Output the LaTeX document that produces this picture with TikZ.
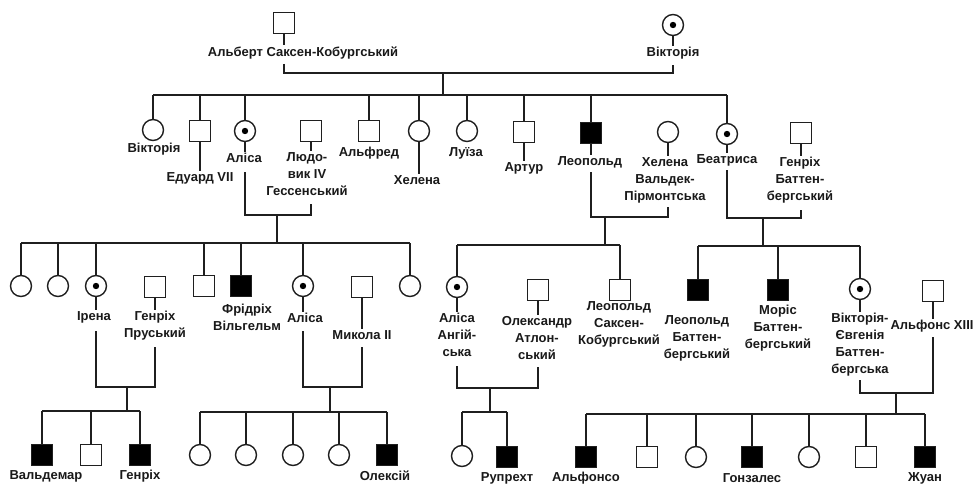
\documentclass[tikz,border=0pt]{standalone}
\usepackage{fontspec}
\setmainfont{Liberation Sans}
\tikzset{
  ln/.style={line width=1.4pt, draw=black!88},
  sym/.style={draw=black!88, line width=1.4pt, minimum size=21pt, inner sep=0pt},
  sq/.style={sym, rectangle},
  sqa/.style={sq, fill=black},
  ci/.style={sym, circle},
  car/.style={ci, path picture={\fill[black] (path picture bounding box.center) circle (3.2pt);}},
  lbl/.style={font=\fontsize{13}{17}\selectfont\bfseries, align=center, inner sep=1.2pt, text=black!90},
}
\begin{document}
\begin{tikzpicture}[x=1pt,y=-1pt]
\useasboundingbox (0,0) rectangle (975,487);
\fill[white] (0,0) rectangle (975,487);

% ---------- generation I
\node[sq] (alb) at (284,23) {};
\node[lbl] (albL) at (303,53) {Альберт Саксен-Кобургський};
\node[car] (vic) at (673,25) {};
\node[lbl] (vicL) at (673,53) {Вікторія};
\coordinate (albb) at (284,64);
\coordinate (vicb) at (673,65);
\coordinate (m1) at (443,73);
\coordinate (s1) at (443,95);
\draw[ln] (alb.south) -- (alb.south |- albL.north);
\draw[ln] (vic.south) -- (vicL.north);
\draw[ln] (albb) |- (m1) -| (vicb);
\draw[ln] (m1) -- (s1);

% ---------- generation II
\node[ci]  (c1) at (153,130) {};
\node[lbl] (c1L) at (154,149) {Вікторія};
\node[sq]  (c2) at (200,131) {};
\node[lbl] (c2L) at (200,178) {Едуард VII};
\node[car] (c3) at (245,131) {};
\node[lbl] (c3L) at (244,158) {Аліса};
\node[sq]  (lud) at (311,131) {};
\node[lbl] (ludL) at (307,174) {Людо-\\вик IV\\Гессенський};
\node[sq]  (c4) at (369,131) {};
\node[lbl] (c4L) at (369,153) {Альфред};
\node[ci]  (c5) at (419,131) {};
\node[lbl] (c5L) at (417,180) {Хелена};
\node[ci]  (c6) at (467,131) {};
\node[lbl] (c6L) at (466,153) {Луїза};
\node[sq]  (c7) at (524,132) {};
\node[lbl] (c7L) at (524,168) {Артур};
\node[sqa] (c8) at (591,133) {};
\node[lbl] (c8L) at (590,162) {Леопольд};
\node[ci]  (hwp) at (668,132) {};
\node[lbl] (hwpL) at (665,180) {Хелена\\Вальдек-\\Пірмонтська};
\node[car] (c9) at (727,134) {};
\node[lbl] (c9L) at (727,160) {Беатриса};
\node[sq]  (hb) at (801,133) {};
\node[lbl] (hbL) at (800,180) {Генріх\\Баттен-\\бергський};

\draw[ln] (c1 |- s1) -- (c9 |- s1);
\foreach \n in {c1,c2,c3,c4,c5,c6,c7,c8,c9} \draw[ln] (\n.north) -- (\n |- s1);
\foreach \n in {c2,c3,c5,c7,c8,hwp,c9,hb} \draw[ln] (\n.south) -- (\n.south |- \n L.north);
\draw[ln] (lud.south) -- (lud.south |- ludL.north);

% couples of generation II
\coordinate (c3b) at (245,172);
\coordinate (ludb) at (311,204);
\coordinate (m2) at (277,215);
\coordinate (s2) at (277,243);
\draw[ln] (c3b) |- (m2) -| (ludb);
\draw[ln] (m2) -- (s2);

\coordinate (c8b) at (591,172);
\coordinate (hwpb) at (668,207);
\coordinate (m3) at (605,217);
\coordinate (s3) at (605,245);
\draw[ln] (c8b) |- (m3) -| (hwpb);
\draw[ln] (m3) -- (s3);

\coordinate (c9b) at (727,170);
\coordinate (hbb) at (801,210);
\coordinate (m4) at (763,218);
\coordinate (s4) at (763,246);
\draw[ln] (c9b) |- (m4) -| (hbb);
\draw[ln] (m4) -- (s4);

% ---------- generation III
\node[ci]  (g1) at (21,286) {};
\node[ci]  (g2) at (58,286) {};
\node[car] (ire) at (96,286) {};
\node[lbl] (ireL) at (94,317) {Ірена};
\node[sq]  (hp) at (155,287) {};
\node[lbl] (hpL) at (155,326) {Генріх\\Пруський};
\node[sq]  (g4) at (204,286) {};
\node[sqa] (fw) at (241,286) {};
\node[lbl] (fwL) at (247,317) {Фрідріх\\Вільгельм};
\node[car] (al2) at (303,286) {};
\node[lbl] (al2L) at (305,318) {Аліса};
\node[sq]  (nik) at (362,287) {};
\node[lbl] (nikL) at (362,335) {Микола II};
\node[ci]  (g9) at (410,286) {};

\draw[ln] (g1 |- s2) -- (g9 |- s2);
\foreach \n in {g1,g2,ire,g4,fw,al2,g9} \draw[ln] (\n.north) -- (\n |- s2);
\foreach \n in {ire,hp,al2,nik} \draw[ln] (\n.south) -- (\n.south |- \n L.north);

\node[car] (alA) at (457,287) {};
\node[lbl] (alAL) at (457,335) {Аліса\\Ангій-\\ська};
\node[sq]  (oa) at (538,290) {};
\node[lbl] (oaL) at (537,338) {Олександр\\Атлон-\\ський};
\node[sq]  (lsk) at (620,290) {};
\node[lbl] (lskL) at (619,324) {Леопольд\\Саксен-\\Кобургський};

\draw[ln] (alA |- s3) -- (lsk |- s3);
\foreach \n in {alA,lsk} \draw[ln] (\n.north) -- (\n |- s3);
\foreach \n in {alA,oa} \draw[ln] (\n.south) -- (\n.south |- \n L.north);

\node[sqa] (lb) at (698,290) {};
\node[lbl] (lbL) at (697,338) {Леопольд\\Баттен-\\бергський};
\node[sqa] (mb) at (778,290) {};
\node[lbl] (mbL) at (778,328) {Моріс\\Баттен-\\бергський};
\node[car] (ve) at (860,289) {};
\node[lbl] (veL) at (860,345) {Вікторія-\\Євгенія\\Баттен-\\бергська};
\node[sq]  (a13) at (933,291) {};
\node[lbl] (a13L) at (932,326) {Альфонс XIII};

\draw[ln] (lb |- s4) -- (ve |- s4);
\foreach \n in {lb,mb,ve} \draw[ln] (\n.north) -- (\n |- s4);
\foreach \n in {ve,a13} \draw[ln] (\n.south) -- (\n.south |- \n L.north);

% couples of generation III
\coordinate (ireb) at (96,331);
\coordinate (hpb) at (155,347);
\coordinate (m5) at (127,387);
\coordinate (s5) at (127,411);
\draw[ln] (ireb) |- (m5) -| (hpb);
\draw[ln] (m5) -- (s5);

\coordinate (al2b) at (303,331);
\coordinate (nikb) at (362,347);
\coordinate (m6) at (330,387);
\coordinate (s6) at (330,412);
\draw[ln] (al2b) |- (m6) -| (nikb);
\draw[ln] (m6) -- (s6);

\coordinate (alAb) at (457,366);
\coordinate (oab) at (538,367);
\coordinate (m7) at (490,388);
\coordinate (s7) at (490,412);
\draw[ln] (alAb) |- (m7) -| (oab);
\draw[ln] (m7) -- (s7);

\coordinate (veb) at (860,380);
\coordinate (a13b) at (933,337);
\coordinate (m8) at (896,393);
\coordinate (s8) at (896,414);
\draw[ln] (veb) |- (m8) -| (a13b);
\draw[ln] (m8) -- (s8);

% ---------- generation IV
\node[sqa] (wal) at (42,455) {};
\node[lbl] (walL) at (46,476) {Вальдемар};
\node[sq]  (h2) at (91,455) {};
\node[sqa] (hen) at (140,455) {};
\node[lbl] (henL) at (140,476) {Генріх};
\draw[ln] (wal |- s5) -- (hen |- s5);
\foreach \n in {wal,h2,hen} \draw[ln] (\n.north) -- (\n |- s5);

\node[ci]  (d1) at (200,455) {};
\node[ci]  (d2) at (246,455) {};
\node[ci]  (d3) at (293,455) {};
\node[ci]  (d4) at (339,455) {};
\node[sqa] (ole) at (387,455) {};
\node[lbl] (oleL) at (385,476) {Олексій};
\draw[ln] (d1 |- s6) -- (ole |- s6);
\foreach \n in {d1,d2,d3,d4,ole} \draw[ln] (\n.north) -- (\n |- s6);

\node[ci]  (e1) at (462,456) {};
\node[sqa] (rup) at (507,457) {};
\node[lbl] (rupL) at (507,478) {Рупрехт};
\draw[ln] (e1 |- s7) -- (rup |- s7);
\foreach \n in {e1,rup} \draw[ln] (\n.north) -- (\n |- s7);

\node[sqa] (f1) at (586,457) {};
\node[lbl] (f1L) at (586,478) {Альфонсо};
\node[sq]  (f2) at (647,457) {};
\node[ci]  (f3) at (696,457) {};
\node[sqa] (f4) at (752,457) {};
\node[lbl] (f4L) at (752,478) {Гонзалес};
\node[ci]  (f5) at (809,457) {};
\node[sq]  (f6) at (866,457) {};
\node[sqa] (f7) at (925,457) {};
\node[lbl] (f7L) at (925,478) {Жуан};
\draw[ln] (f1 |- s8) -- (f7 |- s8);
\foreach \n in {f1,f2,f3,f4,f5,f6,f7} \draw[ln] (\n.north) -- (\n |- s8);
\end{tikzpicture}
\end{document}
